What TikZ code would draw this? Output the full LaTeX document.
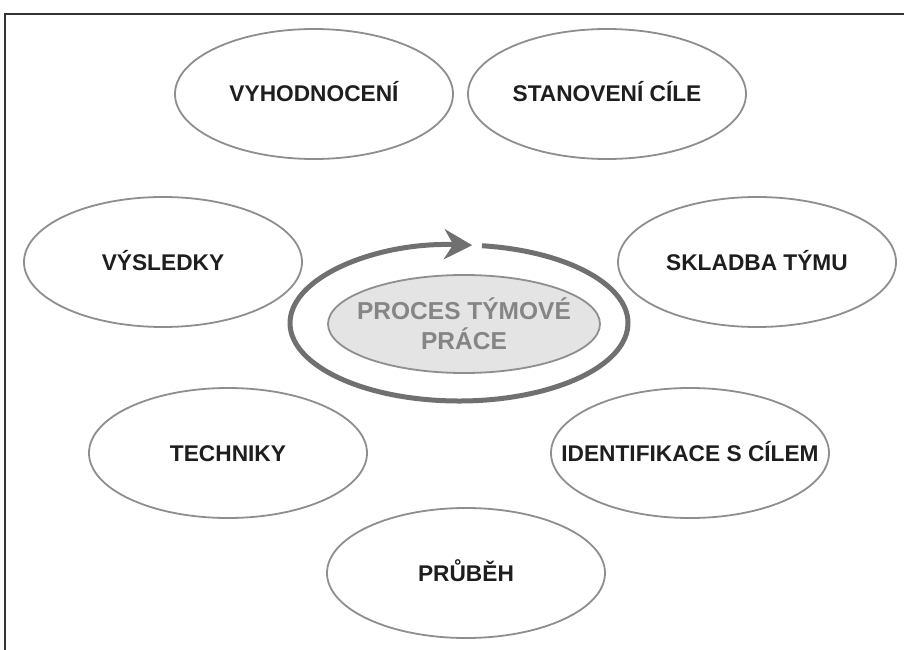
\documentclass[tikz,border=0pt]{standalone}
\usepackage{fontspec}
\setmainfont{Liberation Sans}
\usetikzlibrary{arrows.meta, shapes.geometric}

\definecolor{rim}{HTML}{8E8E8E}
\definecolor{ink}{HTML}{1E1E1E}
\definecolor{loopgray}{HTML}{707070}
\definecolor{corefill}{HTML}{E4E4E4}
\definecolor{coretext}{HTML}{858585}

\begin{document}
\begin{tikzpicture}[
	x = 1bp, y = -1bp, % one unit per pixel, y downwards
	> = {Stealth[length=28bp, width=30bp, inset=9bp]}, % arrow head style
	font = \fontsize{22.7bp}{27bp}\selectfont\bfseries,
	semithick % line style
	]
	
	\tikzstyle{bubble}=[
	ellipse,
	draw = rim,
	line width = 1.8bp,
	fill = white,
	minimum width = 278bp,
	minimum height = 130bp,
	inner sep = 0pt
	]
	
	\tikzstyle{every label}=[
	text = ink,
	text height = 16bp,
	text depth = 0pt,
	inner sep = 0pt
	]
	
	\useasboundingbox (0,0) rectangle (904,650);
	
	% frame
	\draw[line width=1.3bp, black!80] (904,14) -- (5,14) -- (5,650);
	
	\node[bubble, label=center:VYHODNOCENÍ] (vyhod) at (314,94) {};
	\node[bubble, label=center:STANOVENÍ CÍLE] (cil) at (607,94) {};
	\node[bubble, label=center:VÝSLEDKY] (vysl) at (163,262) {};
	\node[bubble, label=center:SKLADBA TÝMU] (sklad) at (757,262) {};
	\node[bubble, label=center:TECHNIKY] (tech) at (228,453) {};
	\node[bubble, label=center:IDENTIFIKACE S CÍLEM] (ident) at (690,453) {};
	\node[bubble, label=center:PRŮBĚH] (prub) at (466,573) {};
	
	% cycle round the core
	\coordinate (hub) at (459,323);
	\draw[->, loopgray, line width=5bp]
		(hub) ++(277.8:169 and 78)
		arc[start angle=277.8, end angle=634.5, x radius=169, y radius=78];
	
	\node[ellipse, draw=rim, line width=1.8bp, fill=corefill,
		minimum width=272bp, minimum height=98bp, inner sep=0pt,
		label={[text=coretext, align=center, text height=, text depth=,
			font=\fontsize{24.5bp}{30bp}\selectfont\bfseries]center:PROCES TÝMOVÉ\\PRÁCE}]
		(core) at (464,324) {};
	
\end{tikzpicture}
\end{document}
